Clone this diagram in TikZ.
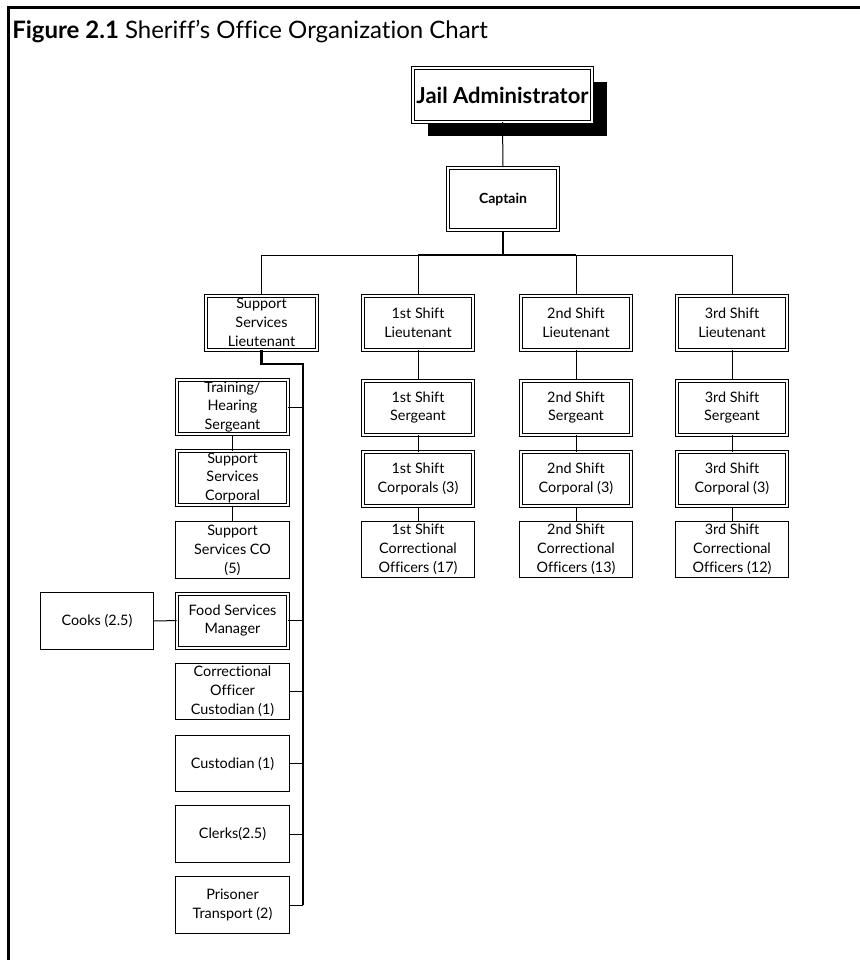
\documentclass[tikz,border=0pt]{standalone}
\usepackage{fontspec}
\setmainfont{Lato}[Ligatures=NoCommon]
\usetikzlibrary{shadows}
\begin{document}
\begin{tikzpicture}[x=0.75pt,y=-0.75pt,
  box/.style={draw=black, line width=0.75pt, fill=white, align=center, inner sep=0pt,
    minimum width=85pt, minimum height=42.5pt, font=\fontsize{10.8}{14.2}\selectfont},
  dbox/.style={box, double=white, double distance=1.5pt, line width=0.75pt,
    minimum width=83pt, minimum height=40.5pt},
  conn/.style={draw=black, line width=0.75pt},
  thickconn/.style={draw=black, line width=1.6pt},
  frame/.style={draw=black, line width=2.3pt}]
\useasboundingbox (0,0) rectangle (860,960);
% frame
\draw[frame] (8.5,960) -- (8.5,7.5) -- (860,7.5);
\node[anchor=base west, inner sep=0pt, font=\fontsize{18}{20}\selectfont] (title) at (12,38)
  {\textbf{Figure 2.1} Sheriff’s Office Organization Chart};
% top
\node[dbox, minimum width=134pt, minimum height=40pt, font=\fontsize{16.5}{20}\selectfont\bfseries,
  drop shadow={shadow xshift=11pt, shadow yshift=-10.5pt, opacity=1, fill=black}] (admin) at (502.5,95) {Jail Administrator};
\node[dbox, minimum height=47pt, font=\fontsize{10.5}{14}\selectfont\bfseries] (captain) at (503,199) {Captain};
% lieutenants
\node[dbox] (ssl) at (261.5,322.5) {Support\\Services\\Lieutenant};
\node[dbox] (l1) at (418,322.5) {1st Shift\\Lieutenant};
\node[dbox] (l2) at (576,322.5) {2nd Shift\\Lieutenant};
\node[dbox] (l3) at (732,322.5) {3rd Shift\\Lieutenant};
% sergeants
\node[dbox] (s1) at (418,407.5) {1st Shift\\Sergeant};
\node[dbox] (s2) at (576,407.5) {2nd Shift\\Sergeant};
\node[dbox] (s3) at (732,407.5) {3rd Shift\\Sergeant};
% corporals
\node[dbox] (c1) at (418,479) {1st Shift\\Corporals (3)};
\node[dbox] (c2) at (576,479) {2nd Shift\\Corporal (3)};
\node[dbox] (c3) at (732,479) {3rd Shift\\Corporal (3)};
% officers
\node[box] (o1) at (418,549.5) {1st Shift\\Correctional\\Officers (17)};
\node[box] (o2) at (576,549.5) {2nd Shift\\Correctional\\Officers (13)};
\node[box] (o3) at (732,549.5) {3rd Shift\\Correctional\\Officers (12)};
% support column
\node[dbox] (tr) at (232.5,407) {Training/\\Hearing\\Sergeant};
\node[dbox] (sc) at (232.5,478) {Support\\Services\\Corporal};
\node[box] (sco) at (232.5,550) {Support\\Services CO\\(5)};
\node[dbox] (fsm) at (232.5,620.5) {Food Services\\Manager};
\node[box] (coc) at (232.5,691.5) {Correctional\\Officer\\Custodian (1)};
\node[box] (cu) at (232.5,763.5) {Custodian (1)};
\node[box] (cl) at (232.5,834) {Clerks(2.5)};
\node[box] (pt) at (232.5,905) {Prisoner\\Transport (2)};
\node[box] (cooks) at (97,621) {Cooks (2.5)};
% connectors top
\coordinate (bar) at (503,255);
\coordinate (sp) at (303,364);
\draw[conn] (admin.south) -- (captain.north);
\draw[thickconn] (captain.south) -- (bar);
\draw[conn] (ssl.north) |- (bar);
\draw[conn] (l3.north) |- (bar);
\draw[conn] (l1.north) -- (l1.north |- bar);
\draw[conn] (l2.north) -- (l2.north |- bar);
\draw[thickconn] (l1.north |- bar) -- (l2.north |- bar);
% shift columns
\draw[conn] (l1) -- (s1) -- (c1) -- (o1);
\draw[conn] (l2) -- (s2) -- (c2) -- (o2);
\draw[conn] (l3) -- (s3) -- (c3) -- (o3);
% support column
\draw[conn] (tr) -- (sc) -- (sco);
\draw[thickconn] (ssl.south) |- (sp) -- (sp |- pt.east);
\foreach \n in {tr,fsm,coc,cu,cl,pt} \draw[conn] (\n.east) -- (\n.east -| sp);
\draw[conn] (cooks) -- (fsm);
\end{tikzpicture}
\end{document}
